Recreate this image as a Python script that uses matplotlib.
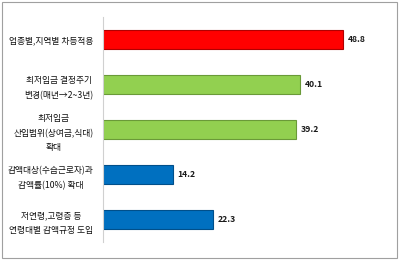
import matplotlib.pyplot as plt
import matplotlib
from matplotlib.patches import Rectangle

matplotlib.rcParams['font.family'] = ['Noto Sans CJK KR', 'DejaVu Sans']
matplotlib.rcParams['axes.unicode_minus'] = False

labels = ['업종별,지역별 차등적용',
          '최저임금 결정주기\n변경(매년→2~3년)',
          '최저임금\n산입범위(상여금,식대)\n확대',
          '감액대상(수습근로자)과\n감액률(10%) 확대',
          '저연령,고령층 등\n연령대별 감액규정 도입']
values = [48.8, 40.1, 39.2, 14.2, 22.3]
colors = ['#ff0000', '#92d050', '#92d050', '#0070c0', '#0070c0']
edges = ['#b00000', '#6a9a38', '#6a9a38', '#004f8a', '#004f8a']

fig = plt.figure(figsize=(4, 2.6), dpi=100)
ax = fig.add_axes([103/400, 18/260, 295/400, 225/260])

y = list(range(len(values)))
ax.barh(y, values, height=0.41, color=colors, edgecolor=edges, linewidth=0.8)

# 값 표시
for i, v in enumerate(values):
    ax.text(v + 1.0, i, f'{v:.1f}', va='center', ha='left',
            fontsize=6.2, fontweight='bold', color='#1a1a1a')

ax.set_xlim(0, 60)
ax.set_ylim(4.5, -0.5)
ax.set_yticks(y)
ax.set_yticklabels(labels, fontsize=6.3, linespacing=1.8, multialignment='center',
                   fontweight='medium')
ax.tick_params(axis='y', length=0, pad=7, colors='#111111')
ax.set_xticks([])
for s in ['top', 'right', 'bottom']:
    ax.spines[s].set_visible(False)
ax.spines['left'].set_color('#d0d0d0')
ax.spines['left'].set_linewidth(0.8)

# 바깥 테두리
fig.patches.append(Rectangle((2/400, 2/260), 395/400, 256/260, transform=fig.transFigure,
                             fill=False, edgecolor='#a0a0a0', linewidth=0.8))

fig.savefig('out.png', dpi=100)
